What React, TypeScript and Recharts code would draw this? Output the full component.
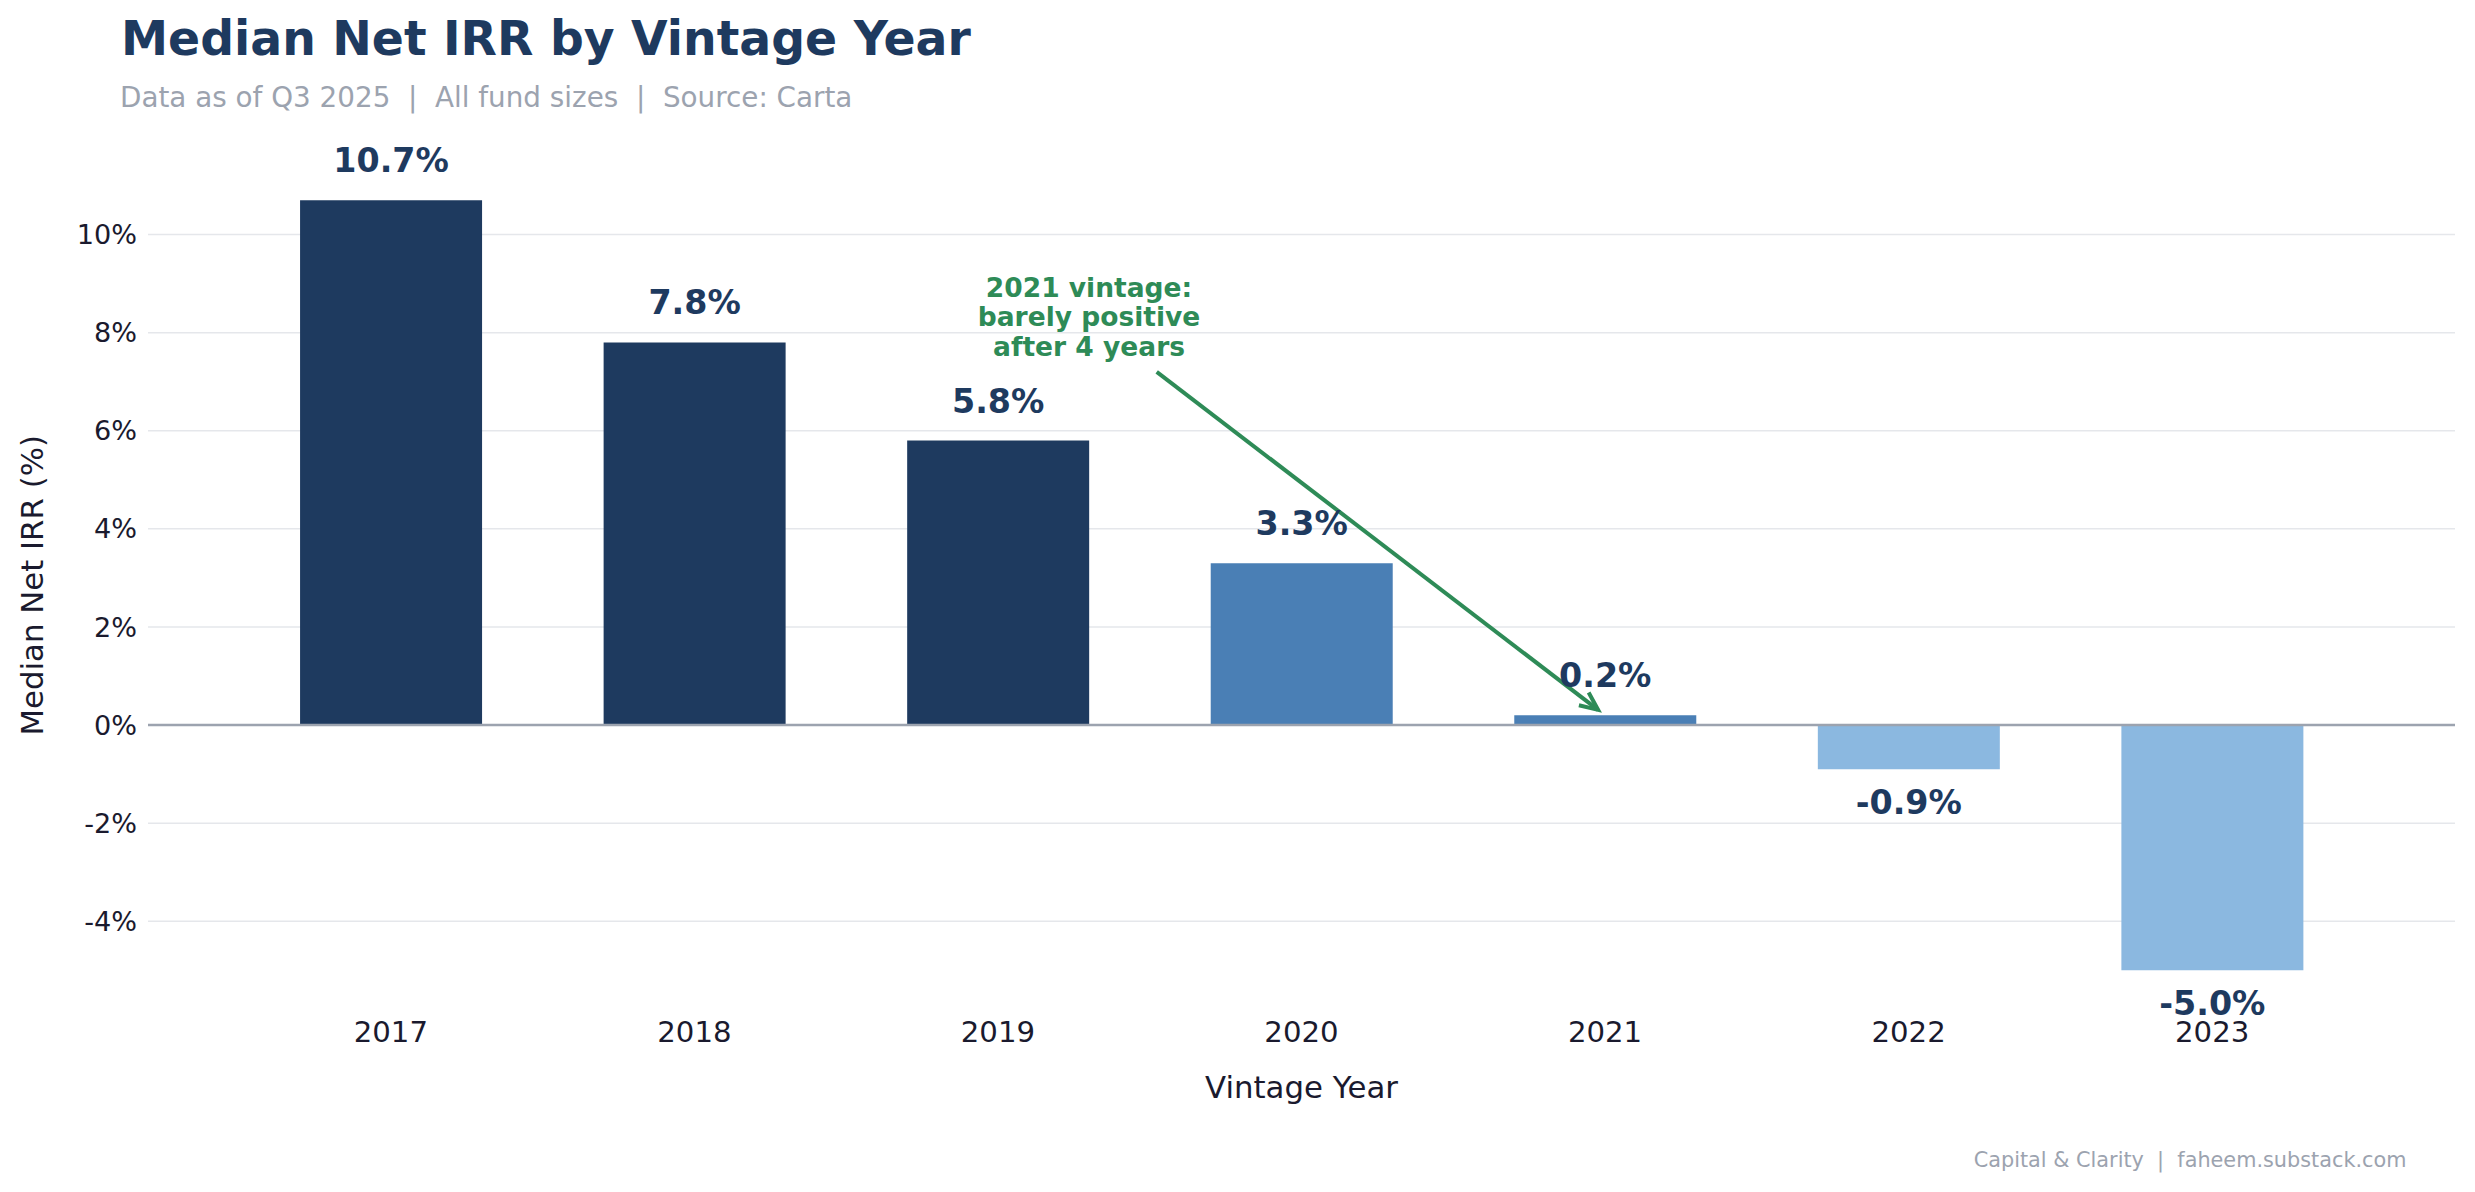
import React from 'react';
import {
  BarChart,
  Bar,
  XAxis,
  YAxis,
  CartesianGrid,
  ReferenceLine,
  ReferenceDot,
  LabelList,
  Cell,
} from 'recharts';

// chart values
const years = ['2017', '2018', '2019', '2020', '2021', '2022', '2023'];
const medianIrr = [10.7, 7.8, 5.8, 3.3, 0.2, -0.9, -5.0];
const barColors = ['#1e3a5f', '#1e3a5f', '#1e3a5f', '#4a7fb5', '#4a7fb5', '#8bb8e0', '#8bb8e0'];
const yTicks = [-4, -2, 0, 2, 4, 6, 8, 10];
const annotationLines = ['2021 vintage:', 'barely positive', 'after 4 years'];

// annotation anchor points in data units (x = vintage index, y = %)
const annotationText = { x: 2.3, y: 8.13 };
const arrowFrom = { x: 2.523, y: 7.2 };
const arrowTo = { x: 3.977, y: 0.31 };

const data = years.map((year, i) => ({ idx: i, year, irr: medianIrr[i] }));

const W = 2475;
const H = 1192;
const FONT = '"DejaVu Sans", sans-serif';
const NAVY = '#1e3a5f';
const GREEN = '#2e8b57';
const MUTED = '#9ca3af';
const INK = '#1a1a2e';

const ValueLabel = (props: any) => {
  const vb = props.viewBox ?? props;
  const { x, y, width, height } = vb;
  const value = Number(props.value);
  const top = Math.min(y, y + height);
  const bottom = Math.max(y, y + height);
  const ty = value >= 0 ? top - 28 : bottom + 45;
  return (
    <text
      x={x + width / 2}
      y={ty}
      textAnchor="middle"
      fontFamily={FONT}
      fontWeight="bold"
      fontSize={33.3}
      fill={NAVY}
    >
      {value.toFixed(1)}%
    </text>
  );
};

const AnnotationText = (props: any) => {
  const { cx, cy } = props;
  return (
    <text
      x={cx}
      y={cy}
      textAnchor="middle"
      fontFamily={FONT}
      fontWeight="bold"
      fontSize={26.5}
      fill={GREEN}
    >
      {annotationLines.map((line, i) => (
        <tspan key={i} x={cx} y={cy + (i - 1) * 29.7}>
          {line}
        </tspan>
      ))}
    </text>
  );
};

const ArrowShape = (props: any) => {
  const { x1, y1, x2, y2 } = props;
  const dx = x2 - x1;
  const dy = y2 - y1;
  const len = Math.sqrt(dx * dx + dy * dy) || 1;
  const ux = dx / len;
  const uy = dy / len;
  const hl = 18;
  const hw = 8;
  const bx = x2 - ux * hl;
  const by = y2 - uy * hl;
  return (
    <g>
      <line x1={x1} y1={y1} x2={x2} y2={y2} stroke={GREEN} strokeWidth={4} />
      <polyline
        points={`${bx - uy * hw},${by + ux * hw} ${x2},${y2} ${bx + uy * hw},${by - ux * hw}`}
        fill="none"
        stroke={GREEN}
        strokeWidth={4}
        strokeLinejoin="miter"
      />
    </g>
  );
};

const App = () => {
  return (
    <div style={{ position: 'absolute', left: 0, top: 0, width: W, height: H, background: '#ffffff' }}>
      <BarChart
        width={W}
        height={H}
        data={data}
        margin={{ top: 161.7, right: 20, bottom: 153.2, left: 0 }}
      >
        <CartesianGrid vertical={false} syncWithTicks stroke="#e5e7eb" strokeWidth={1.5} />
        <XAxis
          type="number"
          dataKey="idx"
          domain={[-0.8, 6.8]}
          ticks={[0, 1, 2, 3, 4, 5, 6]}
          tickFormatter={(i: number) => years[i]}
          axisLine={false}
          tickLine={false}
          tickMargin={6}
          height={30}
          tick={{ fontSize: 29.2, fill: INK, fontFamily: FONT }}
        />
        <YAxis
          type="number"
          domain={[-5.785, 11.485]}
          ticks={yTicks}
          tickFormatter={(v: number) => `${v}%`}
          axisLine={false}
          tickLine={false}
          tickMargin={5}
          width={148}
          tick={{ fontSize: 27.1, fill: INK, fontFamily: FONT }}
        />
        <ReferenceLine y={0} stroke={MUTED} strokeWidth={2.5} />
        <Bar dataKey="irr" barSize={182} isAnimationActive={false}>
          {data.map((entry, i) => (
            <Cell key={`cell-${entry.year}`} fill={barColors[i]} />
          ))}
          <LabelList dataKey="irr" content={<ValueLabel />} />
        </Bar>
        <ReferenceLine
          segment={[arrowFrom, arrowTo]}
          stroke={GREEN}
          shape={ArrowShape}
        />
        <ReferenceDot
          x={annotationText.x}
          y={annotationText.y}
          r={0}
          shape={AnnotationText}
        />
      </BarChart>

      <svg
        width={W}
        height={H}
        style={{ position: 'absolute', left: 0, top: 0, pointerEvents: 'none' }}
      >
        <text x={121} y={55} fontFamily={FONT} fontWeight="bold" fontSize={47.3} fill={NAVY}>
          Median Net IRR by Vintage Year
        </text>
        <text x={120} y={107} fontFamily={FONT} fontSize={27.8} fill={MUTED} style={{ whiteSpace: 'pre' }}>
          {'Data as of Q3 2025  |  All fund sizes  |  Source: Carta'}
        </text>
        <text
          transform="translate(42.7, 585.3) rotate(-90)"
          textAnchor="middle"
          fontFamily={FONT}
          fontSize={30.8}
          fill={INK}
        >
          Median Net IRR (%)
        </text>
        <text x={1301.5} y={1097.5} textAnchor="middle" fontFamily={FONT} fontSize={30.8} fill={INK}>
          Vintage Year
        </text>
        <text
          x={2406.5}
          y={1166.6}
          textAnchor="end"
          fontFamily={FONT}
          fontSize={20.8}
          fill={MUTED}
          style={{ whiteSpace: 'pre' }}
        >
          {'Capital & Clarity  |  faheem.substack.com'}
        </text>
      </svg>
    </div>
  );
};

export default App;
